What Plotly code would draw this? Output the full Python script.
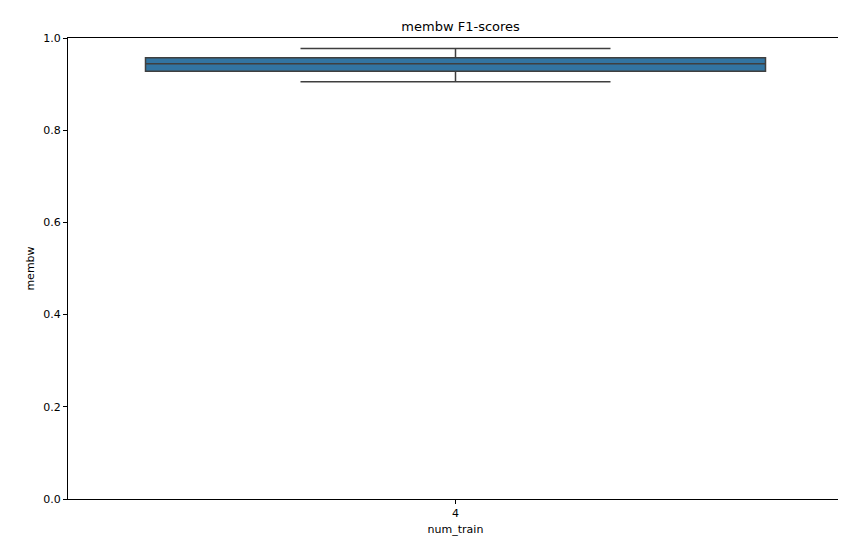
import plotly.graph_objects as go

categories = ["4"]
q1 = [0.928]
median = [0.944]
q3 = [0.957]
lower = [0.905]
upper = [0.977]

fig = go.Figure()
fig.add_trace(go.Box(x=categories, q1=q1, median=median, q3=q3,
                     lowerfence=lower, upperfence=upper,
                     fillcolor="#3274a1", line=dict(color="#3f3f3f", width=1.5),
                     width=0.8, whiskerwidth=0.5, showlegend=False))

axis = dict(showline=True, linecolor="black", linewidth=1, mirror=True,
            ticks="outside", ticklen=4, tickcolor="black", showgrid=False,
            zeroline=False, automargin=False, tickfont=dict(size=11, color="black"))
fig.update_layout(
    width=846, height=545, plot_bgcolor="white", paper_bgcolor="white",
    margin=dict(l=60, r=11, t=30, b=54),
    font=dict(family="DejaVu Sans", color="black"),
    title=dict(text="membw F1-scores", x=0.535, y=0.967, yanchor="middle",
               xanchor="center", font=dict(size=13)),
    xaxis=dict(axis, title=dict(text="num_train", font=dict(size=11), standoff=6),
               range=[-0.5, 0.5]),
    yaxis=dict(axis, title=dict(text="membw", font=dict(size=11), standoff=6),
               range=[0, 1], tickvals=[0, 0.2, 0.4, 0.6, 0.8, 1.0],
               tickformat=".1f"),
)
fig.write_html("out.html")
